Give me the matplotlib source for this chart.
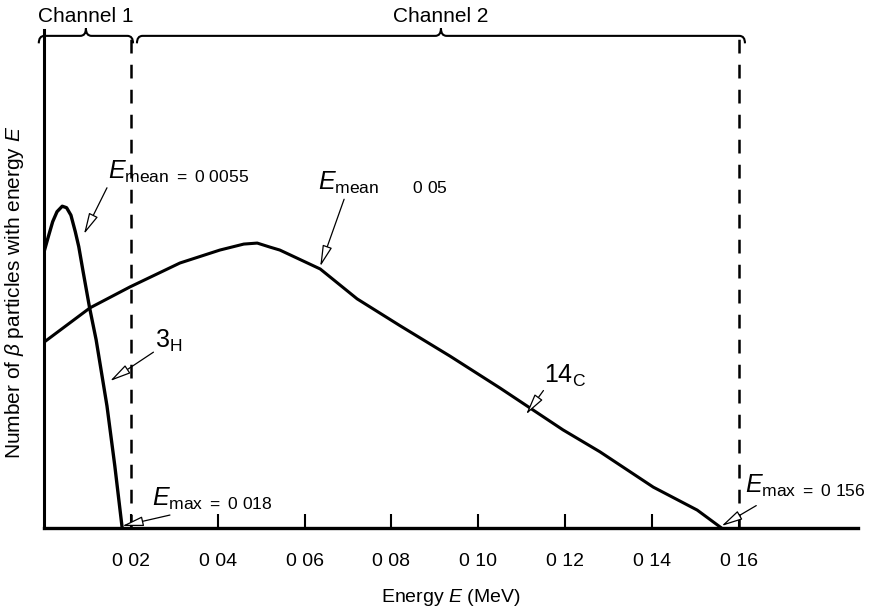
import matplotlib
matplotlib.use("Agg")
import matplotlib.pyplot as plt
from matplotlib.path import Path
from matplotlib.patches import PathPatch

plt.rcParams['font.family'] = ['Liberation Sans', 'DejaVu Sans']
plt.rcParams['mathtext.fontset'] = 'custom'
plt.rcParams['mathtext.rm'] = 'Liberation Sans'
plt.rcParams['mathtext.it'] = 'Liberation Sans:italic'

# Tritium (3H) spectrum, energy in MeV vs relative count
h3_energy = [0.0, 0.0010, 0.0020, 0.0030, 0.0042, 0.0052, 0.0062, 0.0072,
             0.0080, 0.0090, 0.0105, 0.0120, 0.0145, 0.0163, 0.0180]
h3_counts = [55.4, 58.5, 61.5, 63.5, 64.6, 64.3, 62.8, 59.5,
             56.5, 51.5, 44.2, 37.8, 24.5, 12.5, 0.0]

# Carbon-14 spectrum
c14_energy = [0.0, 0.0106, 0.0198, 0.0313, 0.0405, 0.0460, 0.0491, 0.0520,
              0.0543, 0.0636, 0.0721, 0.0820, 0.0935, 0.1050, 0.1195, 0.1280,
              0.1403, 0.1504, 0.1560]
c14_counts = [37.3, 44.2, 48.4, 53.2, 55.8, 57.0, 57.2, 56.4,
              55.8, 52.0, 46.0, 40.6, 34.5, 28.1, 19.7, 15.3,
              8.2, 3.6, 0.0]

tick_values = [0.02, 0.04, 0.06, 0.08, 0.10, 0.12, 0.14, 0.16]
tick_labels = ["0 02", "0 04", "0 06", "0 08", "0 10", "0 12", "0 14", "0 16"]

channel_bounds = [0.02, 0.16]
channel_names = ["Channel 1", "Channel 2"]

fig = plt.figure(figsize=(8.94, 6.08), dpi=100)
ax = fig.add_axes([44 / 894, 80 / 608, (858 - 44) / 894, 528 / 608])
ax.set_xlim(0, (858 - 44) / 4343.0)
ax.set_ylim(0, 106.0)

for side in ("top", "right"):
    ax.spines[side].set_visible(False)
ax.spines["left"].set_linewidth(2.2)
ax.spines["bottom"].set_linewidth(2.4)
ax.spines["left"].set_bounds(0, 100)

ax.set_yticks([])
ax.set_xticks(tick_values)
ax.set_xticklabels(tick_labels, fontsize=14)
ax.tick_params(axis="x", direction="in", length=10, width=1.5, pad=18)

ax.plot(h3_energy, h3_counts, color="black", lw=2.4, solid_capstyle="round", solid_joinstyle="round")
ax.plot(c14_energy, c14_counts, color="black", lw=2.2, solid_capstyle="round", solid_joinstyle="round")

for xb in channel_bounds:
    ax.plot([xb, xb], [0, 100], color="black", lw=1.8, linestyle=(0, (5.5, 4.5)))


def brace(x0, x1, y, h, w):
    xm = (x0 + x1) / 2
    verts = [(x0, y - h), (x0, y), (x0 + w, y),
             (xm - w, y), (xm, y), (xm, y + h),
             (xm, y), (xm + w, y),
             (x1 - w, y), (x1, y), (x1, y - h)]
    codes = [Path.MOVETO, Path.CURVE3, Path.CURVE3,
             Path.LINETO, Path.CURVE3, Path.CURVE3,
             Path.CURVE3, Path.CURVE3,
             Path.LINETO, Path.CURVE3, Path.CURVE3]
    ax.add_patch(PathPatch(Path(verts, codes), fill=False, lw=1.5,
                           edgecolor="black", clip_on=False))
    return xm


b1 = brace(-0.0012, 0.0205, 98.8, 1.5, 0.0013)
b2 = brace(0.0214, 0.1614, 98.8, 1.5, 0.0013)
ax.text(b1, 102.6, channel_names[0], ha="center", va="center", fontsize=15)
ax.text(b2, 102.6, channel_names[1], ha="center", va="center", fontsize=15)

ax.set_xlabel("Energy $E$ (MeV)", fontsize=14, labelpad=12)
ax.set_ylabel(r"Number of $\beta$ particles with energy $E$", fontsize=15)
ax.yaxis.set_label_coords(-0.022, 0.447)

arrow = dict(arrowstyle="-|>,head_length=1.3,head_width=0.3", fc="white",
             ec="black", lw=0.9, shrinkA=0, shrinkB=0)

# arrow tip (on the curve) and arrow tail
arrows = [
    ((0.0092, 59.0), (0.0145, 68.3)),
    ((0.0636, 52.5), (0.0691, 66.0)),
    ((0.0152, 29.5), (0.0252, 35.3)),
    ((0.1110, 22.8), (0.1150, 27.6)),
    ((0.0180, 0.4), (0.0290, 2.6)),
    ((0.1560, 0.4), (0.1640, 4.5)),
]
for tip, tail in arrows:
    ax.annotate("", xy=tip, xytext=tail, arrowprops=arrow)

labels = [
    (r"$E_{\mathrm{mean\ =\ 0\ 0055}}$", (0.0148, 68.8)),
    (r"$E_{\mathrm{mean\ \ \ \ \ \ \ 0\ 05}}$", (0.0630, 66.6)),
    (r"$3_{\mathrm{H}}$", (0.0255, 35.0)),
    (r"$14_{\mathrm{C}}$", (0.1152, 28.0)),
    (r"$E_{\mathrm{max\ =\ 0\ 018}}$", (0.0248, 3.2)),
    (r"$E_{\mathrm{max\ =\ 0\ 156}}$", (0.1615, 5.8)),
]
for label, pos in labels:
    ax.text(pos[0], pos[1], label, fontsize=18, ha="left", va="bottom")

fig.savefig("out.png", dpi=100)
